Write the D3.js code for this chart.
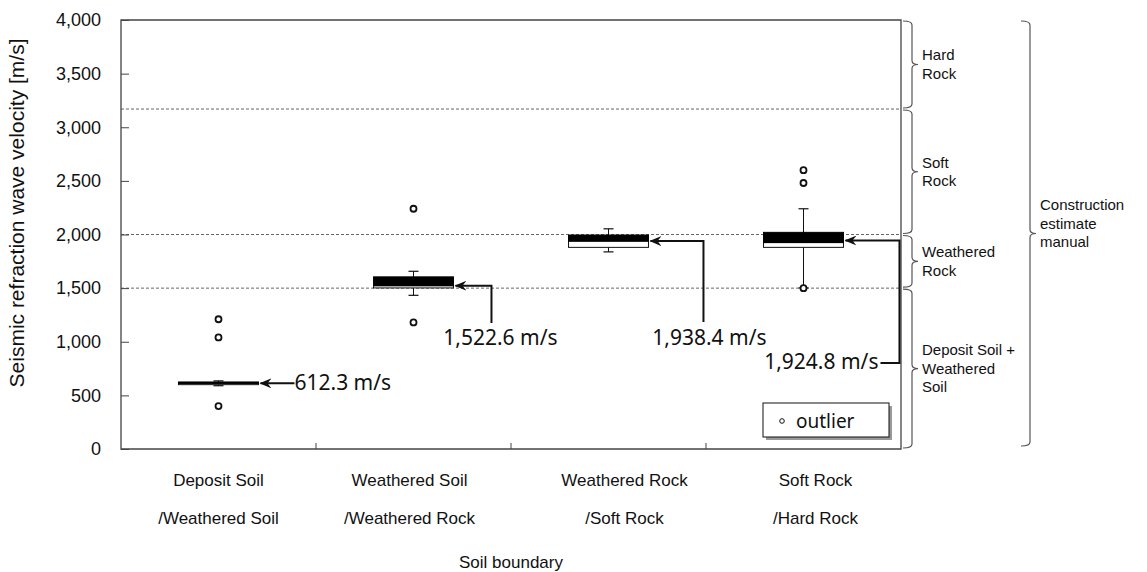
<!DOCTYPE html>
<html>
<head>
<meta charset="utf-8">
<script src="https://cdn.jsdelivr.net/npm/d3@7"></script>
<style>
  body { margin: 0; background: #fff; }
  text { font-family: "Liberation Sans", Arial, sans-serif; fill: #111; }
  .note { font-family: "Noto Sans", "DejaVu Sans", sans-serif; }
</style>
</head>
<body>
<svg id="chart" width="1147" height="572"></svg>
<script>
// values
const categories = ["Deposit Soil\n/Weathered Soil", "Weathered Soil\n/Weathered Rock", "Weathered Rock\n/Soft Rock", "Soft Rock\n/Hard Rock"];
const whiskerLow  = [590, 1433, 1838, 1502];
const q1          = [600, 1502, 1880, 1880];
const median      = [612.3, 1522.6, 1938.4, 1924.8];
const q3          = [625, 1605, 1995, 2020];
const whiskerHigh = [635, 1657, 2053, 2240];
const outliers    = [[400, 1040, 1210], [1180, 2240], [], [1500, 2480, 2600]];
const yTicks      = [0, 500, 1000, 1500, 2000, 2500, 3000, 3500, 4000];
const zoneBounds  = [0, 1500, 2000, 3170, 4000];
const zoneLabels  = [["Deposit Soil +", "Weathered", "Soil"], ["Weathered", "Rock"], ["Soft", "Rock"], ["Hard", "Rock"]];
const manualLabel = ["Construction", "estimate", "manual"];

const svg = d3.select("#chart");
const m = { left: 121, right: 901, top: 20, bottom: 449 };

const x = d3.scaleBand().domain(categories).range([m.left, m.right]);
const y = d3.scaleLinear().domain([0, 4000]).range([m.bottom, m.top]);
const boxW = x.bandwidth() * 0.41;
const cx = i => x(categories[i]) + x.bandwidth() / 2;
const labelShift = [0, -4, 16, 12];

// arrow marker, tip sits on the path end
svg.append("defs").append("marker")
    .attr("id", "arr")
    .attr("viewBox", "0 0 12 10")
    .attr("refX", 11).attr("refY", 5)
    .attr("markerWidth", 12).attr("markerHeight", 10)
    .attr("markerUnits", "userSpaceOnUse")
    .attr("orient", "auto")
    .append("path")
    .attr("d", "M12,5 L0,0 L4,5 L0,10 Z")
    .attr("fill", "#111");

// zone boundary dashed lines
svg.append("g").selectAll("line")
    .data(zoneBounds.slice(1, -1))
    .enter().append("line")
    .attr("x1", m.left).attr("x2", m.right)
    .attr("y1", d => y(d)).attr("y2", d => y(d))
    .attr("stroke", "#666").attr("stroke-width", 1)
    .attr("stroke-dasharray", "3,2");

// y axis with inner ticks
const yAxis = svg.append("g")
    .attr("transform", `translate(${m.left},0)`)
    .call(d3.axisLeft(y).tickValues(yTicks).tickSize(-8).tickPadding(20).tickFormat(d3.format(",")));
yAxis.select(".domain").remove();
yAxis.selectAll("line").attr("stroke", "#444");
yAxis.selectAll("text").attr("font-size", 18).attr("fill", "#111")
    .attr("font-family", "Liberation Sans, Arial, sans-serif");

// x boundary ticks
svg.append("g").selectAll("line")
    .data(categories.slice(1))
    .enter().append("line")
    .attr("x1", d => x(d)).attr("x2", d => x(d))
    .attr("y1", m.bottom).attr("y2", m.bottom - 6)
    .attr("stroke", "#444");

// frame
svg.append("path")
    .attr("d", `M${m.left},${m.top} H${m.right} V${m.bottom} H${m.left} Z`)
    .attr("fill", "none").attr("stroke", "#444").attr("stroke-width", 1.3);

// category labels
const cat = svg.append("g").selectAll("text")
    .data(categories)
    .enter().append("text")
    .attr("text-anchor", "middle")
    .attr("font-size", 17);
cat.each(function (d, i) {
    d.split("\n").forEach((line, k) => {
        d3.select(this).append("tspan")
            .attr("x", cx(i) + labelShift[i]).attr("y", 486 + k * 38)
            .text(line);
    });
});

svg.append("text")
    .attr("x", (m.left + m.right) / 2).attr("y", 568)
    .attr("text-anchor", "middle").attr("font-size", 17)
    .text("Soil boundary");

svg.append("text")
    .attr("transform", "translate(24,213) rotate(-90)")
    .attr("text-anchor", "middle").attr("font-size", 21)
    .text("Seismic refraction wave velocity [m/s]");

// boxes
const boxes = svg.append("g");
categories.forEach((c, i) => {
    const g = boxes.append("g");
    const xc = cx(i);
    g.append("line")
        .attr("x1", xc).attr("x2", xc)
        .attr("y1", y(whiskerLow[i])).attr("y2", y(whiskerHigh[i]))
        .attr("stroke", "#111").attr("stroke-width", 1);
    [whiskerLow[i], whiskerHigh[i]].forEach(v => {
        g.append("line")
            .attr("x1", xc - 5).attr("x2", xc + 5)
            .attr("y1", y(v)).attr("y2", y(v))
            .attr("stroke", "#111").attr("stroke-width", 1.2);
    });
    g.append("rect")
        .attr("x", xc - boxW / 2).attr("width", boxW)
        .attr("y", y(median[i])).attr("height", y(q1[i]) - y(median[i]))
        .attr("fill", "#fff").attr("stroke", "#111").attr("stroke-width", 1);
    g.append("rect")
        .attr("x", xc - boxW / 2).attr("width", boxW)
        .attr("y", y(q3[i])).attr("height", y(median[i]) - y(q3[i]))
        .attr("fill", "#000").attr("stroke", "#000").attr("stroke-width", 1);
    g.selectAll("circle")
        .data(outliers[i])
        .enter().append("circle")
        .attr("cx", xc).attr("cy", d => y(d)).attr("r", 3)
        .attr("fill", "#fff").attr("stroke", "#111").attr("stroke-width", 1.8);
});

// median call-outs
const fmt = d => d3.format(",.1f")(d) + " m/s";
const notes = svg.append("g");
categories.forEach((c, i) => {
    const xr = cx(i) + boxW / 2 + 1;
    const ym = y(median[i]);
    let d, tx, ty, anchor;
    if (i === 0) {
        d = `M${xr + 35},${ym} H${xr + 1}`;
        tx = xr + 35; ty = ym + 7; anchor = "start";
    } else if (i === 1) {
        d = `M${xr + 37},323 V${ym} H${xr + 1}`;
        tx = xr + 46; ty = 345; anchor = "middle";
    } else if (i === 2) {
        d = `M${xr + 54},322 V${ym} H${xr + 1}`;
        tx = xr + 60; ty = 345; anchor = "middle";
    } else {
        d = `M${xr + 36},363 H${xr + 55} V${ym - 2} H${xr + 1}`;
        tx = xr + 34; ty = 369; anchor = "end";
    }
    notes.append("path").attr("d", d)
        .attr("fill", "none").attr("stroke", "#111").attr("stroke-width", 2)
        .attr("marker-end", "url(#arr)");
    notes.append("text").attr("class", "note")
        .attr("x", tx).attr("y", ty).attr("text-anchor", anchor)
        .attr("font-size", 21).text(fmt(median[i]));
});

// legend
const lg = svg.append("g");
lg.append("rect").attr("x", 766).attr("y", 406).attr("width", 126).attr("height", 34).attr("fill", "#999");
lg.append("rect").attr("x", 763).attr("y", 403).attr("width", 126).attr("height", 34)
    .attr("fill", "#fff").attr("stroke", "#111").attr("stroke-width", 1);
lg.append("circle").attr("cx", 782).attr("cy", 421).attr("r", 2.3)
    .attr("fill", "#fff").attr("stroke", "#111").attr("stroke-width", 1);
lg.append("text").attr("class", "note").attr("x", 796).attr("y", 428).attr("font-size", 19).text("outlier");

// curly brackets
const brace = (bx, y0, y1, w, t) => {
    const ym = (y0 + y1) / 2, r = 4;
    return `M${bx - w},${y0} Q${bx},${y0} ${bx},${y0 + r} L${bx},${ym - r} Q${bx},${ym} ${bx + t},${ym}`
         + ` Q${bx},${ym} ${bx},${ym + r} L${bx},${y1 - r} Q${bx},${y1} ${bx - w},${y1}`;
};
const zones = svg.append("g");
zoneLabels.forEach((lab, i) => {
    const y0 = y(zoneBounds[i + 1]) + 1, y1 = y(zoneBounds[i]) - 1;
    zones.append("path").attr("d", brace(912, y0, y1, 9, 6))
        .attr("fill", "none").attr("stroke", "#555").attr("stroke-width", 1.2);
    const t = zones.append("text").attr("font-size", 15);
    const ym = (y0 + y1) / 2;
    lab.forEach((line, k) => {
        t.append("tspan").attr("x", 922)
            .attr("y", ym + 5 + (k - (lab.length - 1) / 2) * 18.5)
            .text(line);
    });
});
zones.append("path").attr("d", brace(1030, y(4000) + 1, 446, 9, 6))
    .attr("fill", "none").attr("stroke", "#555").attr("stroke-width", 1.2);
const mt = zones.append("text").attr("font-size", 15);
manualLabel.forEach((line, k) => {
    mt.append("tspan").attr("x", 1040).attr("y", 210 + k * 18.5).text(line);
});
</script>
</body>
</html>
